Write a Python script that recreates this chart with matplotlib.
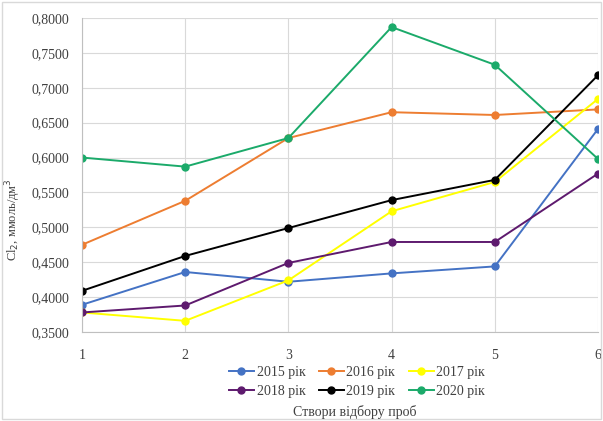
import matplotlib
matplotlib.use("Agg")
import matplotlib.pyplot as plt
from matplotlib.ticker import FuncFormatter, MultipleLocator

plt.rcParams['font.family'] = ['Liberation Serif', 'DejaVu Serif']

stations = [1, 2, 3, 4, 5, 6]
y2015 = [0.389, 0.436, 0.422, 0.434, 0.444, 0.641]
y2016 = [0.475, 0.538, 0.628, 0.665, 0.661, 0.669]
y2017 = [0.378, 0.366, 0.424, 0.523, 0.565, 0.684]
y2018 = [0.378, 0.388, 0.449, 0.479, 0.479, 0.577]
y2019 = [0.409, 0.459, 0.499, 0.539, 0.568, 0.718]
y2020 = [0.600, 0.587, 0.628, 0.787, 0.733, 0.598]

series = [
    ("2015 рік", y2015, "#4472C4"),
    ("2016 рік", y2016, "#ED7D31"),
    ("2017 рік", y2017, "#FFFF00"),
    ("2018 рік", y2018, "#5E1A6E"),
    ("2019 рік", y2019, "#000000"),
    ("2020 рік", y2020, "#1BAA6A"),
]

fig = plt.figure(figsize=(6.03, 4.21), dpi=100)
fig.patch.set_facecolor("white")
fig.patches.append(plt.Rectangle((0.004, 0.004), 0.992, 0.992, transform=fig.transFigure,
                                 fill=False, edgecolor="#D9D9D9", linewidth=1.0))

ax = fig.add_axes([82 / 603, 1 - 332 / 421, (598 - 82) / 603, (332 - 18) / 421])

handles = {}
for label, vals, color in series:
    line, = ax.plot(stations, vals, color=color, linewidth=1.4, marker="o",
                    markersize=5, label=label)
    handles[label] = line

ax.set_xlim(1, 6)
ax.set_ylim(0.35, 0.80)
ax.yaxis.set_major_locator(MultipleLocator(0.05))
ax.xaxis.set_major_locator(MultipleLocator(1))
ax.yaxis.set_major_formatter(FuncFormatter(lambda v, p: f"{v:.4f}".replace(".", ",")))
ax.grid(True, color="#D9D9D9", linewidth=0.8)
ax.set_axisbelow(True)
for side in ("top", "right"):
    ax.spines[side].set_visible(False)
for side in ("left", "bottom"):
    ax.spines[side].set_color("#BFBFBF")
ax.tick_params(length=0, labelsize=10, colors="#404040")
ax.tick_params(axis="x", pad=12)
ax.tick_params(axis="y", pad=9)

ax.set_ylabel("Cl$_2$, ммоль/дм$^3$", fontsize=9, color="#404040")
ax.yaxis.set_label_coords(-0.115, (332 - 220) / (332 - 18))

# legend filled row by row: three entries per row
order = ["2015 рік", "2018 рік", "2016 рік", "2019 рік", "2017 рік", "2020 рік"]
fig.legend([handles[k] for k in order], order, loc="center",
           bbox_to_anchor=(357 / 603, 1 - 382 / 421), ncol=3, frameon=False,
           fontsize=10, handlelength=1.8, columnspacing=0.95, handletextpad=0.2,
           labelspacing=0.45, labelcolor="#404040", borderpad=0.2)
fig.text(355 / 603, 1 - 412 / 421, "Створи відбору проб", ha="center", va="center",
         fontsize=10, color="#404040")

fig.savefig("out.png", dpi=100)
